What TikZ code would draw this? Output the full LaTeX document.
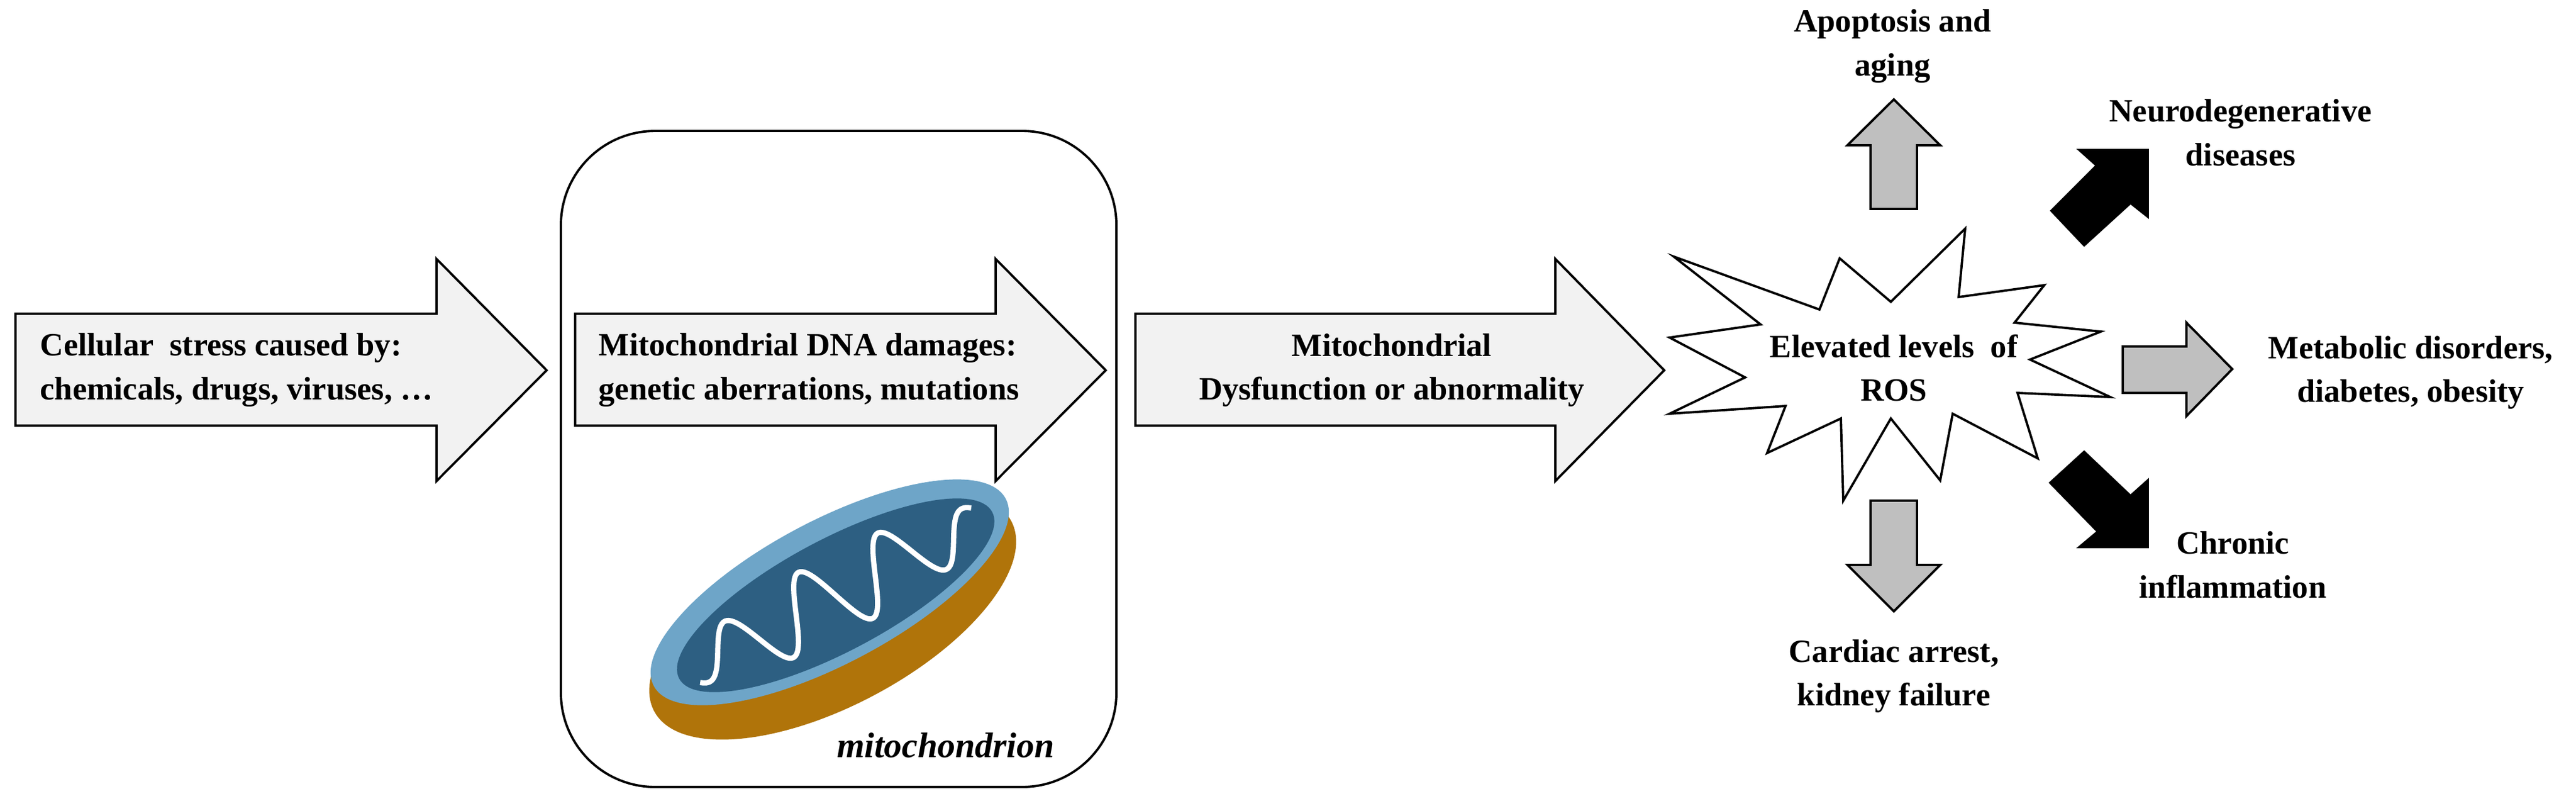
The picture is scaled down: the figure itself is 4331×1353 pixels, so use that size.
\documentclass[tikz,border=0pt]{standalone}
\usepackage{fontspec}
\setmainfont{Liberation Serif}
\begin{document}
\begin{tikzpicture}[x=0.01cm,y=-0.01cm,
  blk/.style={draw=black,line width=1.1pt,line join=miter},
  light/.style={blk,fill=gray!10},
  mid/.style={blk,fill=gray!50},
  dark/.style={blk,fill=black},
  lbl/.style={font=\fontsize{15.5}{21}\selectfont\bfseries,align=center,inner sep=0pt},
  lbll/.style={lbl,align=left,anchor=west}]
\useasboundingbox (0,0) rectangle (4331,1353);
% container
\draw[line width=1.1pt,rounded corners=45pt] (943,220) rectangle (1877,1322);
% big arrows
\draw[light] (26,527) -- (734,527) -- (734,435) -- (919,622) -- (734,808) -- (734,715) -- (26,715) -- cycle;
\draw[light] (967,527) -- (1674,527) -- (1674,435) -- (1859,622) -- (1674,808) -- (1674,715) -- (967,715) -- cycle;
\draw[light] (1909,527) -- (2615,527) -- (2615,435) -- (2798,622) -- (2615,808) -- (2615,715) -- (1909,715) -- cycle;
\node[lbll] (t1) at (67,622) {Cellular\ \ stress caused by:\\chemicals, drugs, viruses, \dots};
\node[lbll] (t2) at (1006,622) {Mitochondrial DNA damages:\\genetic aberrations, mutations};
\node[lbl] (t3) at (2340,622) {Mitochondrial\\Dysfunction or abnormality};
% mitochondrion
\begin{scope}
\fill[rotate around={28:(1400,1035)},color={rgb,255:red,176;green,116;blue,10}] (1400,1035) ellipse (340 and 150);
\fill[rotate around={28:(1395,995)},color={rgb,255:red,110;green,165;blue,200}] (1395,995) ellipse (335 and 120);
\fill[rotate around={28:(1405,1000)},color={rgb,255:red,45;green,95;blue,130}] (1405,1000) ellipse (298 and 94);
\draw[white,line width=2.5pt,rotate around={28:(1405,1000)}]
  plot[smooth,samples=120,domain=-270:270] (1405+\x,{1000+64*sin(\x*2.4)*(1-(\x/290)^2)^0.5});
\end{scope}
\node[font=\fontsize{17}{20}\selectfont\bfseries\itshape,anchor=east] (mt) at (1785,1252) {mitochondrion};
% starburst
\draw[blk,fill=white] (2814,431) -- (2960,545) -- (2807,567) -- (2934,634) -- (2807,695) -- (3002,682) -- (2971,761) -- (3095,703) -- (3099,841) -- (3179,703) -- (3262,807) -- (3283,695) -- (3426,770) -- (3392,660) -- (3548,667) -- (3413,604) -- (3532,557) -- (3387,542) -- (3437,479) -- (3293,499) -- (3304,384) -- (3179,507) -- (3093,434) -- (3059,520) -- cycle;
\node[lbl] (ros) at (3184,618) {Elevated levels\ \ of\\ROS};
% small arrows
\draw[mid] (3145,351) -- (3145,244) -- (3106,244) -- (3184,167) -- (3262,244) -- (3223,244) -- (3223,351) -- cycle;
\draw[mid] (3145,841) -- (3145,949) -- (3106,949) -- (3184,1027) -- (3262,949) -- (3223,949) -- (3223,841) -- cycle;
\draw[mid] (3569,582) -- (3676,582) -- (3676,542) -- (3753,620) -- (3676,699) -- (3676,660) -- (3569,660) -- cycle;
\draw[dark] (3611,252) -- (3611,364) -- (3582,341) -- (3504,412) -- (3449,354) -- (3525,278) -- (3496,252) -- cycle;
\draw[dark] (3611,919) -- (3496,919) -- (3527,893) -- (3447,811) -- (3504,759) -- (3582,833) -- (3611,807) -- cycle;
% labels
\node[lbl] (apo) at (3182,78) {Apoptosis and\\aging};
\node[lbl] (neu) at (3767,223) {Neurodegenerative\\diseases};
\node[lbl] (met) at (4053,626) {Metabolic disorders,\\diabetes, obesity};
\node[lbl] (chr) at (3754,949) {Chronic\\inflammation};
\node[lbl] (car) at (3184,1136) {Cardiac arrest,\\kidney failure};
\end{tikzpicture}
\end{document}
